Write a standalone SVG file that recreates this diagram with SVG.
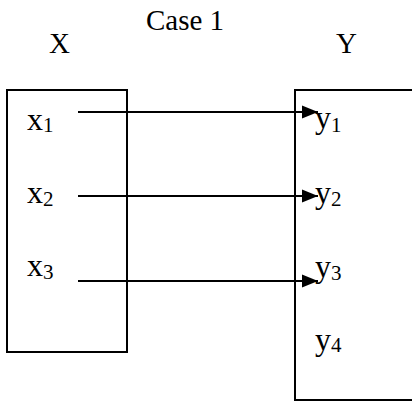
<svg xmlns="http://www.w3.org/2000/svg" width="412" height="403" viewBox="0 0 412 403">
<style>
text{font-family:"Liberation Serif","Times New Roman",serif;fill:#000}
.h{font-size:29px}
.v{font-size:32px}
.s{font-size:21px}
.box{fill:none;stroke:#000;stroke-width:2}
.c{stroke:#000;stroke-width:2;fill:none}
</style>
<defs>
<marker id="ah" markerUnits="userSpaceOnUse" markerWidth="18" markerHeight="16" refX="17" refY="8" orient="auto">
<path d="M1,1.5 L17,8 L1,14.5 Z" fill="#000"/>
</marker>
</defs>
<rect width="412" height="403" fill="#fff"/>
<text class="h" x="146" y="30">Case 1</text>
<g id="X">
<text class="h" x="49" y="53">X</text>
<rect class="box" x="7" y="90" width="120" height="262"/>
<text class="v" x="27" y="130">x<tspan class="s" dy="2">1</tspan></text>
<text class="v" x="27" y="203">x<tspan class="s" dy="3">2</tspan></text>
<text class="v" x="27" y="276">x<tspan class="s" dy="3">3</tspan></text>
</g>
<g id="Y">
<text class="h" x="336" y="53">Y</text>
<rect class="box" x="295" y="90" width="130" height="310"/>
<text class="v" x="315" y="128">y<tspan class="s" dy="4">1</tspan></text>
<text class="v" x="315" y="203">y<tspan class="s" dy="3">2</tspan></text>
<text class="v" x="315" y="277">y<tspan class="s" dy="3">3</tspan></text>
<text class="v" x="315" y="350">y<tspan class="s" dy="2">4</tspan></text>
</g>
<g id="connectors">
<line class="c" x1="78" y1="112" x2="318" y2="112" marker-end="url(#ah)"/>
<line class="c" x1="78" y1="196" x2="318" y2="196" marker-end="url(#ah)"/>
<line class="c" x1="78" y1="281" x2="318" y2="281" marker-end="url(#ah)"/>
</g>
</svg>
